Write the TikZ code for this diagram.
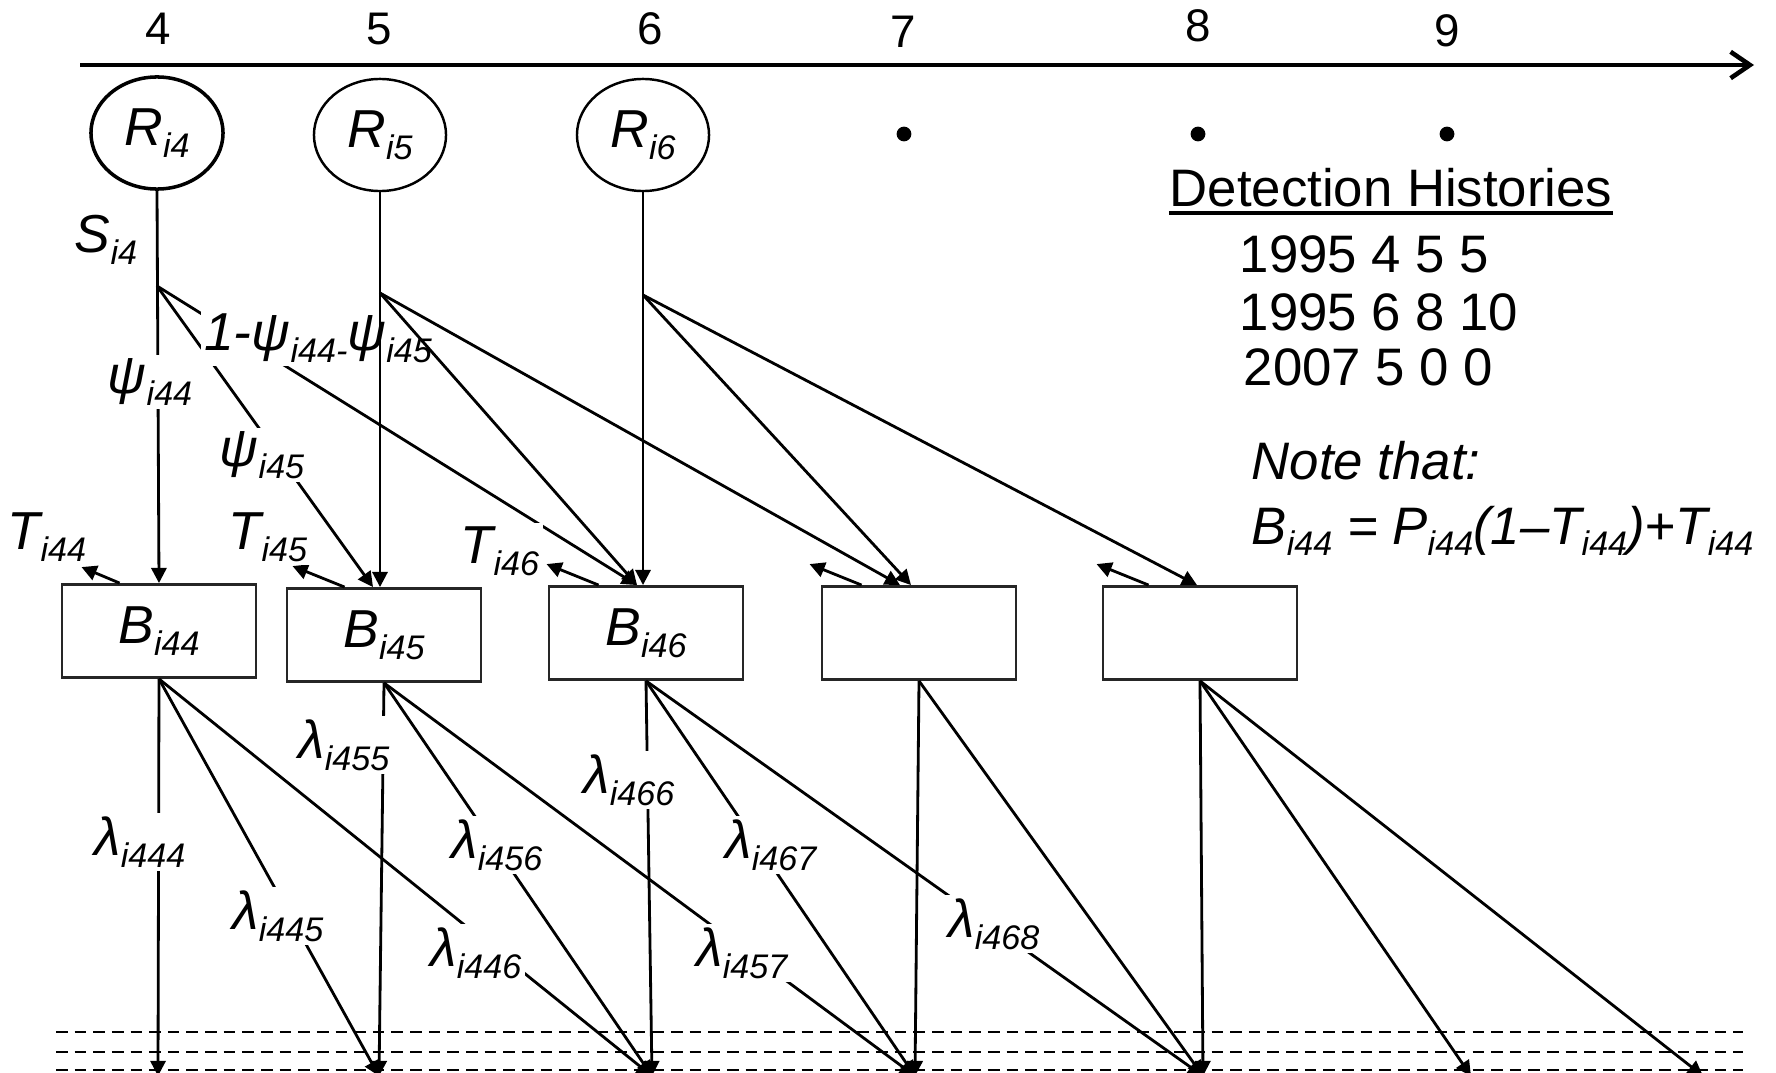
\documentclass[tikz,border=0pt]{standalone}
\usepackage{fontspec}
\setmainfont{Liberation Sans}
\usetikzlibrary{shapes.geometric,arrows.meta,calc}
\newcommand{\lowsub}[1]{\raisebox{-3.3pt}{\fontsize{9.7}{11}\selectfont #1}}
\tikzset{
  big/.style={font=\fontsize{15.2}{17}\selectfont\itshape},
  lab/.style={big, fill=white, inner sep=1pt},
  rnode/.style={ellipse, draw, line width=0.7pt, minimum width=1.32cm, minimum height=1.12cm, inner sep=0pt, big},
  bnode/.style={rectangle, draw=black!85, line width=0.8pt, minimum width=1.94cm, minimum height=0.93cm, big},
  tip/.style={-{Triangle[length=4.3pt,width=4.3pt]}},
  ln/.style={line width=0.8pt},
  num/.style={font=\fontsize{13}{15}\selectfont},
  txt/.style={font=\fontsize{15}{18}\selectfont, inner sep=0pt},
}
\begin{document}
\begin{tikzpicture}[x=0.01cm, y=-0.01cm]
	\useasboundingbox (0,0) rectangle (1776,1073);
	\draw[line width=1.3pt, -{Straight Barb[length=5.5pt,width=7.5pt]}] (80,65) -- (1754,65);
	\foreach \n/\x/\y in {4/158/29, 5/379/29, 6/650/29, 7/903/32, 8/1198/26, 9/1447/31}
		\node[num] (n\n) at (\x,\y) {\n};
	\foreach \n/\x in {7/904, 8/1198, 9/1447}
		\node[circle, fill, inner sep=0pt, minimum size=4.2pt] (d\n) at (\x,134) {};

	\node[rnode, line width=1pt] (R4) at (157,133) {R\lowsub{i4}};
	\node[rnode] (R5) at (380,135) {R\lowsub{i5}};
	\node[rnode] (R6) at (643,135) {R\lowsub{i6}};

	\node[bnode] (B44) at (159,631) {B\lowsub{i44}};
	\node[bnode] (B45) at (384,635) {\raisebox{2pt}{B\lowsub{i45}}};
	\node[bnode] (B46) at (646,633) {B\lowsub{i46}};
	\node[bnode] (B47) at (919,633) {};
	\node[bnode] (B48) at (1200,633) {};

	\foreach \n/\x in {4/158, 5/379, 6/652, 7/915, 8/1203, 9/1471, 10/1703}
		\coordinate (y\n) at (\x,1076);
	\foreach \y in {1032,1052,1070}
		\draw[ln, dash pattern=on 3.3pt off 2pt] (56,\y) -- (1743,\y);

	\foreach \b/\t in {44/4, 44/5, 44/6, 45/5, 45/6, 45/7, 46/6, 46/7, 46/8, 47/7, 47/8, 48/8, 48/9, 48/10}
		\draw[ln,tip] (B\b.south) -- (y\t);
	\foreach \s/\x/\y in {444/140/842, 445/278/916, 446/476/953, 455/344/745, 456/497/845, 457/742/953, 466/629/780, 467/771/845, 468/994/924}
		\node[lab] (l\s) at (\x,\y) {λ\lowsub{i\s}};

	\coordinate (s4) at (157,286);
	\coordinate (s5) at (380,293);
	\coordinate (s6) at (643,295);
	\draw[ln,tip] (R4.south) -- (B44.north);
	\draw[ln,tip] (s4) -- ($(B45.north)+(-11,0)$);
	\draw[ln,tip] (s4) -- ($(B46.north)+(-9,0)$);
	\node[lab] (si4) at (106,240) {S\lowsub{i4}};
	\node[lab] (p44) at (150,382) {ψ\lowsub{i44}};
	\node[lab] (p4x) at (318,338) {1-ψ\lowsub{i44-}ψ\lowsub{i45}};
	\node[lab] (p45) at (262,455) {ψ\lowsub{i45}};

	\draw[ln,tip] (R5.south) -- (R5.south |- B45.north);
	\draw[ln,tip] (R6.south) -- (R6.south |- B46.north);
	\draw[ln,tip] (s5) -- ($(B46.north)+(-9,0)$);
	\draw[ln,tip] (s5) -- ($(B47.north)+(-19,0)$);
	\draw[ln,tip] (s6) -- ($(B47.north)+(-8,0)$);
	\draw[ln,tip] (s6) -- ($(B48.north)+(-3,0)$);

	\draw[ln,tip] ($(B44.north west)+(59,0)$) -- ++(-38,-16);
	\foreach \b/\o in {45/59, 46/51, 47/41, 48/47}
		\draw[ln,tip] ($(B\b.north west)+(\o,0)$) -- ++(-52,-21);
	\node[lab] (t44) at (47,537) {T\lowsub{i44}};
	\node[lab] (t45) at (268,537) {T\lowsub{i45}};
	\node[lab] (t46) at (500,551) {T\lowsub{i46}};

	\node[txt, anchor=base] (dh) at (1391,207) {Detection Histories};
	\draw[line width=1pt] ($(dh.base west)+(0,6)$) -- ($(dh.base east)+(0,6)$);
	\node[txt, anchor=base west] (h1) at (1239,272) {1995 4 5 5};
	\node[txt, anchor=base west] (h2) at (1239,330) {1995 6 8 10};
	\node[txt, anchor=base west] (h3) at (1243,385) {2007 5 0 0};
	\node[txt, anchor=base west] (note) at (1251,479) {\itshape Note that:};
	\node[txt, anchor=base west] (eq) at (1251,544) {\itshape B\lowsub{i44} = P\lowsub{i44}(1–T\lowsub{i44})+T\lowsub{i44}};
\end{tikzpicture}
\end{document}
